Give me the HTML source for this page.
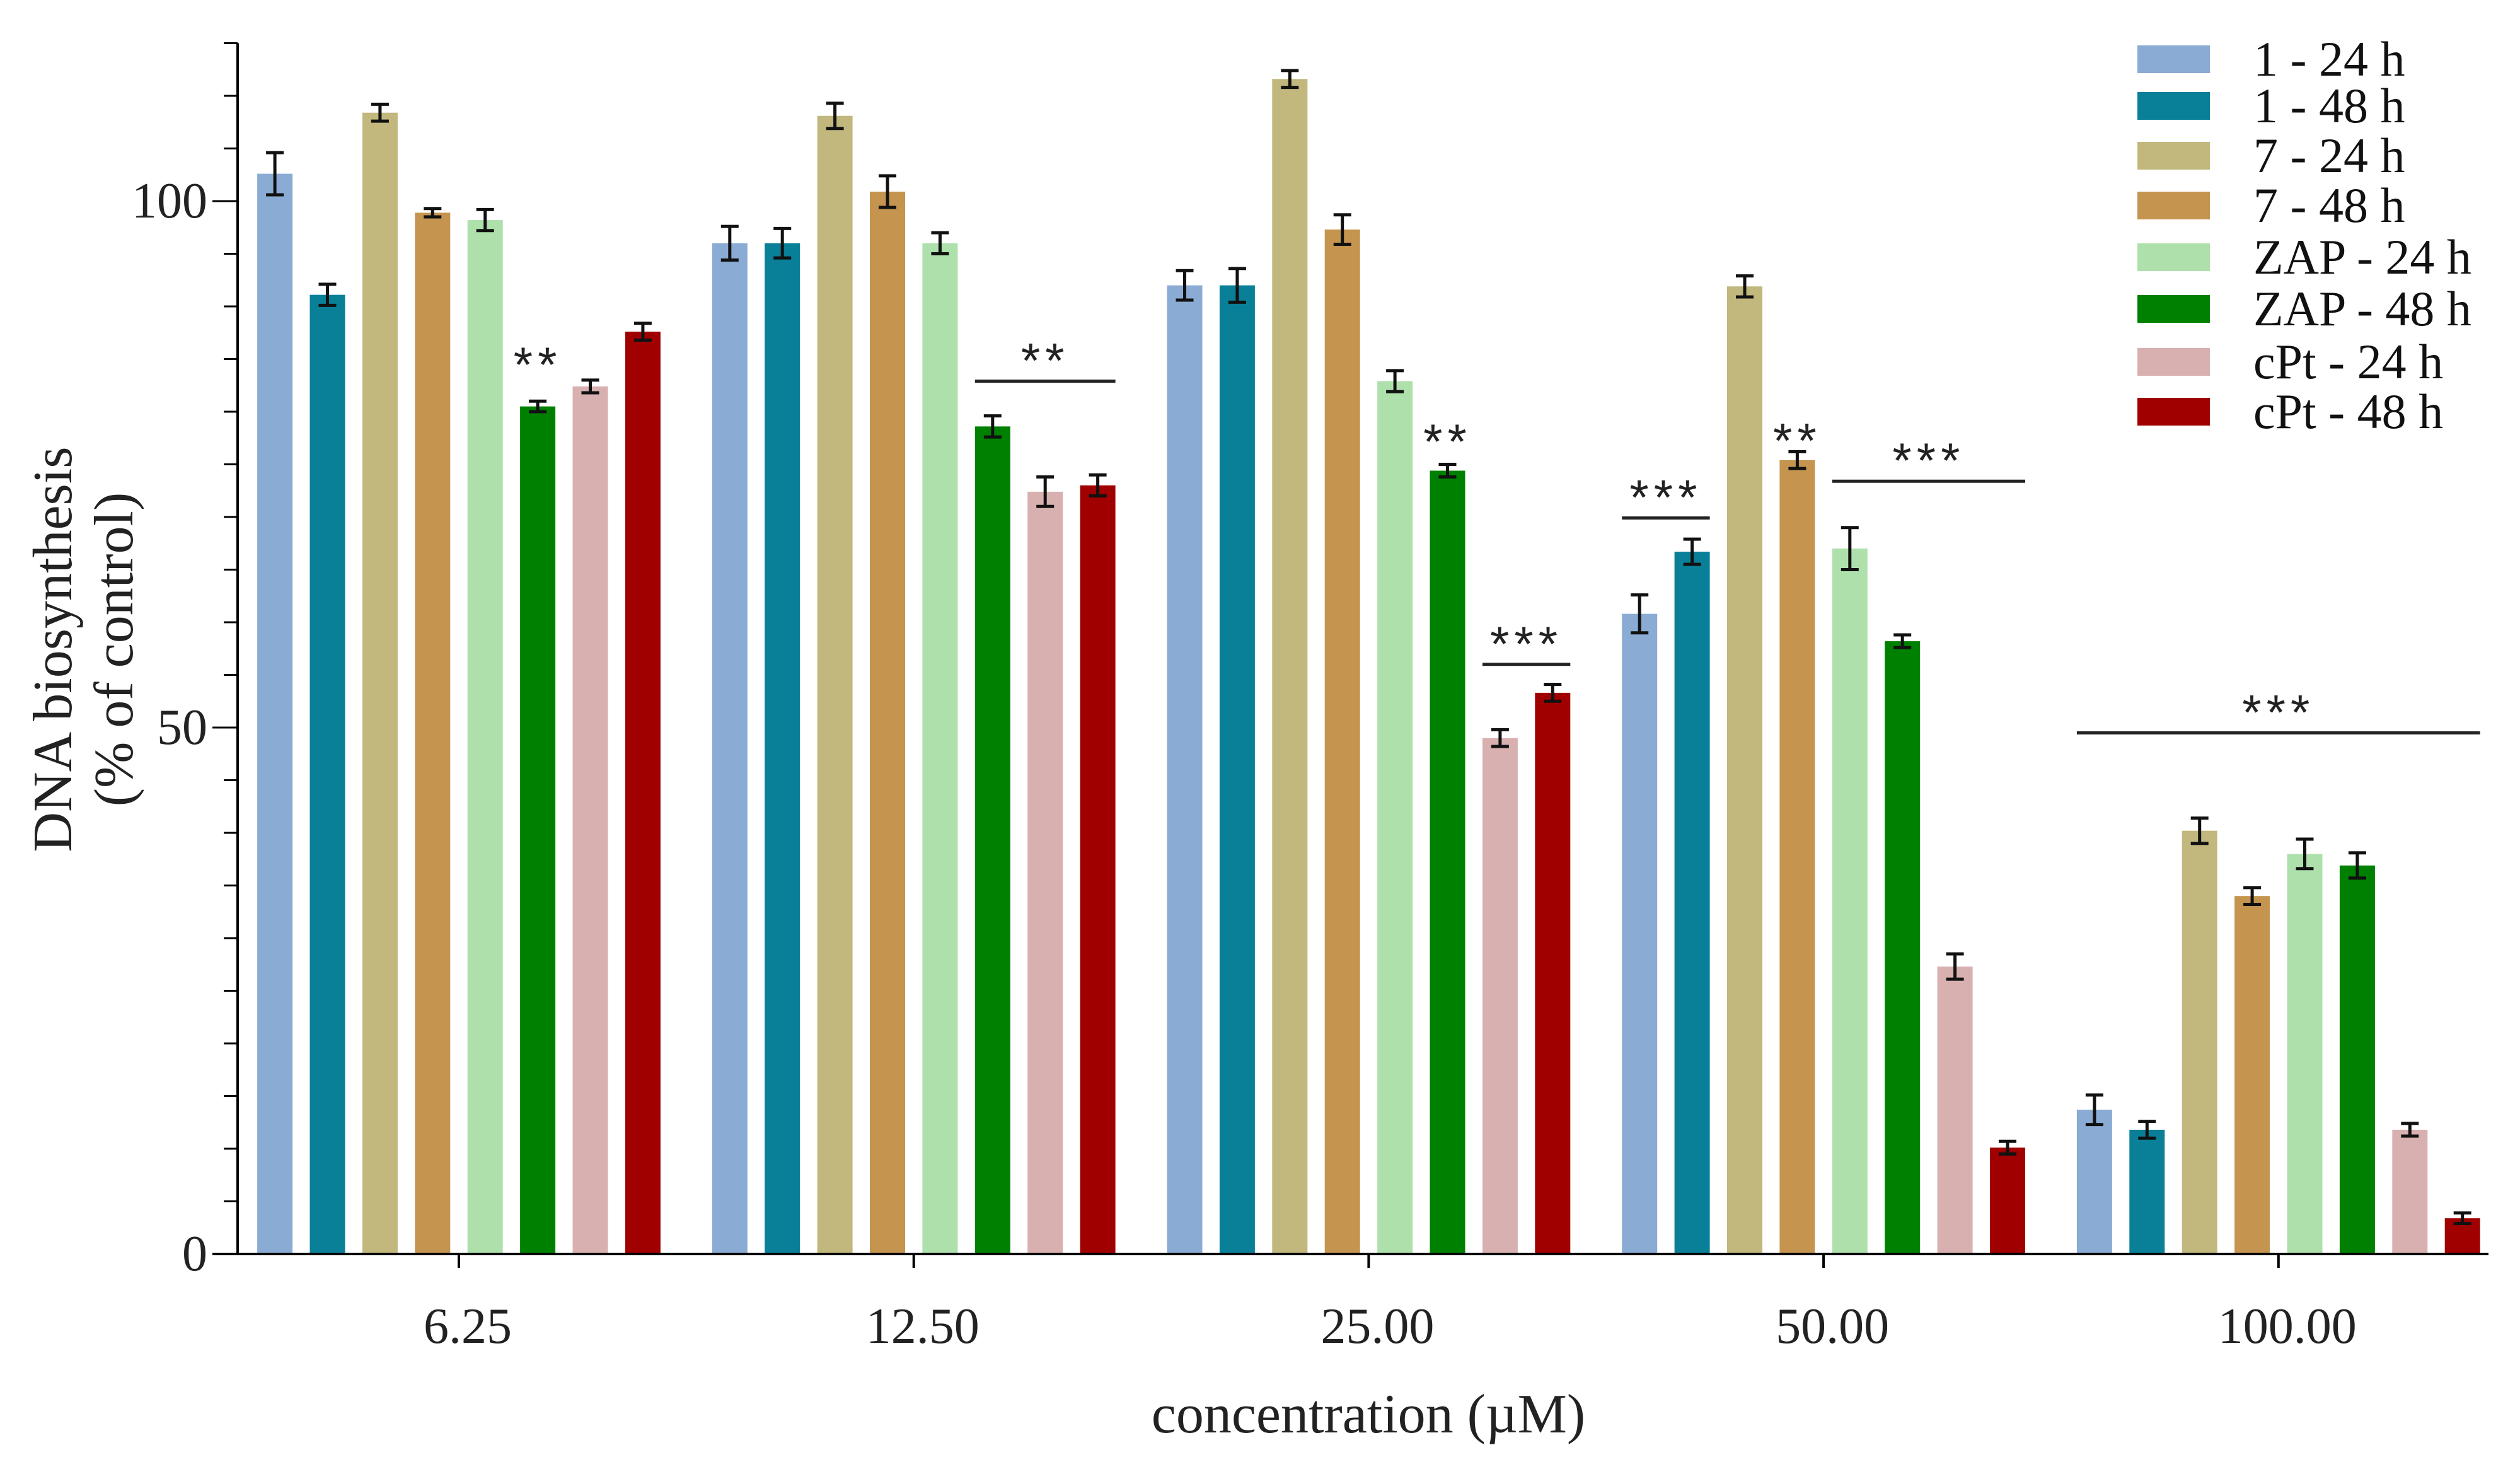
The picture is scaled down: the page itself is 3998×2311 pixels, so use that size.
<!DOCTYPE html>
<html><head><meta charset="utf-8"><style>
html,body{margin:0;padding:0;background:#fff}
svg{display:block;font-family:"Liberation Serif",serif}
</style></head><body>
<svg id="chart" width="3998" height="2311" viewBox="0 0 3998 2311" xmlns="http://www.w3.org/2000/svg">
<g id="plot"></g>
</svg>
<script>
const categories = ["6.25","12.50","25.00","50.00","100.00"];
const seriesNames = ["1 - 24 h","1 - 48 h","7 - 24 h","7 - 48 h","ZAP - 24 h","ZAP - 48 h","cPt - 24 h","cPt - 48 h"];
const seriesColors = ["#8aabd4","#097f98","#c2b77c","#c5944f","#aee0ab","#008000","#d9b0b0","#a00000"];
const s1_24 = [102.6, 96.0, 92.0, 60.8, 13.7];
const s1_48 = [91.1, 96.0, 92.0, 66.7, 11.8];
const s7_24 = [108.4, 108.1, 111.6, 91.9, 40.2];
const s7_48 = [98.9, 100.9, 97.3, 75.4, 34.0];
const sZ_24 = [98.2, 96.0, 82.9, 67.0, 38.0];
const sZ_48 = [80.5, 78.6, 74.4, 58.2, 36.9];
const sC_24 = [82.4, 72.4, 49.0, 27.3, 11.8];
const sC_48 = [87.6, 73.0, 53.3, 10.1, 3.4];
const e1_24 = [2.0, 1.6, 1.4, 1.8, 1.4];
const e1_48 = [1.0, 1.4, 1.6, 1.2, 0.8];
const e7_24 = [0.8, 1.2, 0.8, 1.0, 1.2];
const e7_48 = [0.4, 1.5, 1.4, 0.8, 0.8];
const eZ_24 = [1.0, 1.0, 1.0, 2.0, 1.4];
const eZ_48 = [0.5, 1.0, 0.6, 0.6, 1.2];
const eC_24 = [0.6, 1.4, 0.8, 1.2, 0.6];
const eC_48 = [0.8, 1.0, 0.8, 0.6, 0.5];
const yTicks = [0, 50, 100];
const yMinorStep = 5;
const yMax = 115;
// significance annotations: label, group index, first series, last series, level (% units)
const sigLabels = ["**","**","**","***","***","**","***","***"];
const sigGroups = [0,1,2,2,3,3,3,4];
const sigFrom = [5,5,5,6,0,3,4,0];
const sigTo = [5,7,5,7,1,3,7,7];
const sigLevel = [85.5,82.9,78.2,56.0,69.9,78.3,73.4,49.5];

const series = [s1_24,s1_48,s7_24,s7_48,sZ_24,sZ_48,sC_24,sC_48];
const errs = [e1_24,e1_48,e7_24,e7_48,eZ_24,eZ_48,eC_24,eC_48];
const NS="http://www.w3.org/2000/svg";
const g=document.getElementById('plot');
const X0=377, Y0=1989, Y100=319;
const y=v=>Y0-(v/100)*(Y0-Y100);
const groupX=i=>728+i*721.7;
const barX=(i,s)=>groupX(i)+(s-3.5)*83.4;
const BW=56;
function mk(tag,attrs,parent){const e=document.createElementNS(NS,tag);for(const k in attrs)e.setAttribute(k,attrs[k]);(parent||g).appendChild(e);return e;}

series.forEach((arr,s)=>{arr.forEach((v,i)=>{
 const r=mk('rect',{x:barX(i,s)-BW/2,y:y(v),width:BW,height:Y0-y(v),fill:seriesColors[s]});
 
 
 const e=errs[s][i], cx=barX(i,s);
 const eb=mk('path',{d:`M${cx},${y(v+e)}V${y(v-e)}M${cx-14},${y(v+e)}H${cx+14}M${cx-14},${y(v-e)}H${cx+14}`,stroke:'#111','stroke-width':5,fill:'none'});
 
 
});});

const ya=mk('path',{d:`M${X0},${y(yMax)}V${Y0}`,stroke:'#000','stroke-width':4});


const xa=mk('path',{d:`M${X0-40},${Y0}H3948`,stroke:'#000','stroke-width':4});


for(let v=0;v<=yMax;v+=yMinorStep){
 const major=yTicks.includes(v);
 const t=mk('line',{x1:X0-(major?40:22),x2:X0,y1:y(v),y2:y(v),stroke:'#000','stroke-width':3});
 
 
}
yTicks.forEach(v=>{
 const t=mk('text',{x:X0-48,y:y(v)+26,'text-anchor':'end','font-size':80,fill:'#222'});t.textContent=v;
 
 
});
categories.forEach((c,i)=>{
 const t=mk('line',{x1:groupX(i),x2:groupX(i),y1:Y0,y2:Y0+22,stroke:'#000','stroke-width':4});
 
 
 const l=mk('text',{x:groupX(i)+14,y:2130,'text-anchor':'middle','font-size':80,fill:'#222'});l.textContent=c;
 
 
});
const xt=mk('text',{x:2171,y:2272,'text-anchor':'middle','font-size':88,fill:'#222'});xt.textContent='concentration (µM)';


const yt=mk('text',{transform:'translate(113,1030) rotate(-90)','text-anchor':'middle','font-size':88,fill:'#222'});


const t1=mk('tspan',{x:0,dy:0},yt);t1.textContent='DNA biosynthesis';
const t2=mk('tspan',{x:0,dy:97},yt);t2.textContent='(% of control)';

sigLabels.forEach((lab,k)=>{
 const i=sigGroups[k], a=sigFrom[k], b=sigTo[k];
 const x1=barX(i,a)-BW/2, x2=barX(i,b)+BW/2, cx=(x1+x2)/2;
 const ly=y(sigLevel[k]);
 let base;
 if(a!==b){
  const ln=mk('line',{x1:x1,x2:x2,y1:ly,y2:ly,stroke:'#222','stroke-width':5});
  
  
  base=ly-6;
 } else base=ly+44;
 const t=mk('text',{x:cx,y:base,'text-anchor':'middle','font-size':78,'font-family':'Liberation Sans, sans-serif',fill:'#222','letter-spacing':8});t.textContent=lab;
 
 
});

const lg=mk('g',{});


const rowY=[94,168,247,326,408,490,574,653];
seriesNames.forEach((n,s)=>{
 const r=mk('rect',{x:3391,y:rowY[s]-22,width:115,height:44,fill:seriesColors[s]},lg);
 
 
 const t=mk('text',{x:3575,y:rowY[s]+26,'font-size':78,fill:'#111'},lg);t.textContent=n;
 
 
});
</script>
</body></html>
